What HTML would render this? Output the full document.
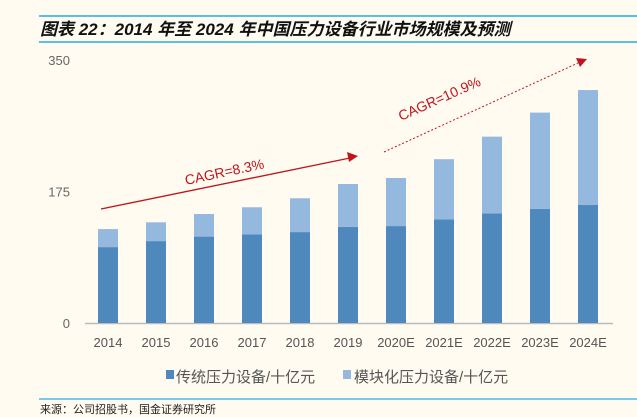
<!DOCTYPE html>
<html><head><meta charset="utf-8"><style>
body{margin:0;background:#fffbf1;}
svg{display:block;font-family:"Liberation Sans","Noto Sans CJK SC",sans-serif;}
</style></head><body>
<svg width="637" height="417" viewBox="0 0 637 417">
<rect width="637" height="417" fill="#fffbf1"/>
<line x1="39" y1="16" x2="637" y2="16" stroke="#29abe2" stroke-width="1.5"/>
<line x1="39" y1="42" x2="637" y2="42" stroke="#29abe2" stroke-width="1.5"/>
<text x="40" y="35" font-size="17" font-weight="bold" font-style="italic" fill="#111">图表 22：2014 年至 2024 年中国压力设备行业市场规模及预测</text>
<g id="axes"></g>
<g id="bars"></g>
<line x1="101" y1="209" x2="350" y2="158" stroke="#c0141c" stroke-width="1.3"/>
<polygon points="358,156 347,152 349,162" fill="#c0141c"/>
<text x="0" y="0" font-size="14" fill="#c0141c" transform="translate(186,185) rotate(-12)">CAGR=8.3%</text>
<line x1="384" y1="152" x2="578" y2="63" stroke="#c0141c" stroke-width="1" stroke-dasharray="2,2"/>
<polygon points="587,59 576,58 580,67" fill="#c0141c"/>
<text x="0" y="0" font-size="14" fill="#c0141c" transform="translate(401,121) rotate(-24)">CAGR=10.9%</text>
<rect x="166" y="370" width="8" height="9" fill="#4f88bd"/>
<text x="176" y="382" font-size="15" fill="#555">传统压力设备/十亿元</text>
<rect x="343" y="370" width="8" height="9" fill="#95b8df"/>
<text x="354" y="382" font-size="15" fill="#555">模块化压力设备/十亿元</text>
<line x1="39" y1="399" x2="637" y2="399" stroke="#29abe2" stroke-width="1.2"/>
<text x="40" y="413" font-size="11" fill="#222">来源：公司招股书，国金证券研究所</text>
</svg>
<script>
const categories=["2014","2015","2016","2017","2018","2019","2020E","2021E","2022E","2023E","2024E"];
const traditional=[101,109,115,118,121,128,129,138,146,152,157];
const modular=[24,25,30,36,45,57,64,80,102,128,153];
const yTicks=[0,175,350];
const NS="http://www.w3.org/2000/svg";
const y0=323,pxPer=(323-60)/350;
const yS=v=>y0-v*pxPer;
const xS=i=>108+i*48;
const axes=document.getElementById('axes'),bars=document.getElementById('bars');
function mk(t,a,p){const e=document.createElementNS(NS,t);for(const k in a)e.setAttribute(k,a[k]);p.appendChild(e);return e;}
yTicks.forEach(v=>{
  const t=mk('text',{x:70,y:yS(v)+5,'font-size':13,fill:'#666','text-anchor':'end'},axes);
  t.textContent=v;
  
  
});
const ax=mk('line',{x1:85,y1:y0+0.5,x2:613,y2:y0+0.5,stroke:'#bbb','stroke-width':1.5},axes);


categories.forEach((c,i)=>{
  const x=xS(i)-10;
  const r1=mk('rect',{x:x,y:yS(traditional[i]),width:20,height:traditional[i]*pxPer,fill:'#4f88bd'},bars);
  
  
  const tot=traditional[i]+modular[i];
  const r2=mk('rect',{x:x,y:yS(tot),width:20,height:modular[i]*pxPer,fill:'#95b8df'},bars);
  
  
  const t=mk('text',{x:xS(i),y:347,'font-size':13,fill:'#555','text-anchor':'middle'},axes);
  t.textContent=c;
  
  
});
</script>
</body></html>
